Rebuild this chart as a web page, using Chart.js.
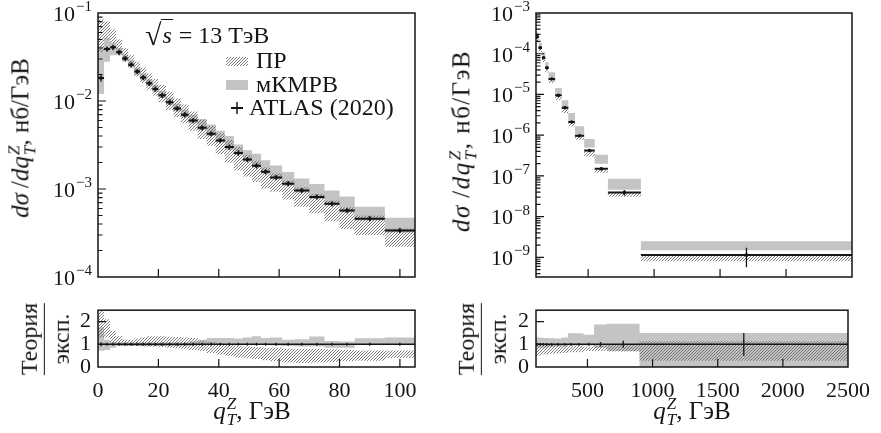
<!DOCTYPE html>
<html>
<head>
<meta charset="utf-8">
<script src="https://cdn.jsdelivr.net/npm/chart.js@4.4.1/dist/chart.umd.min.js"></script>
<style>
  body { margin: 0; background: #fff; width: 881px; height: 433px; overflow: hidden; position: relative;
         font-family: "Liberation Serif", serif; color: #151515; }
  canvas { position: absolute; }
  .lbl { position: absolute; white-space: nowrap; font-size: 25px; line-height: 1; }
  .rot { transform: translate(-50%, -50%) rotate(-90deg); }
  .mid { transform: translate(-50%, -50%); }
  .ss { display: inline-block; vertical-align: -0.38em; font-size: 0.68em; line-height: 0.92; text-align: left; margin-left: 1px; }
  .ss i { display: block; }
  .frac { display: flex; flex-direction: column; align-items: center; font-size: 24px; }
  .frac .bar { width: 100%; height: 1.3px; background: #151515; margin: 3px 0 4px; }
  .sq { font-size: 1.25em; vertical-align: -0.08em; }
  .rad { border-top: 1.4px solid #151515; padding: 2px 1px 0 1px; }
</style>
</head>
<body>
<canvas id="tl" width="440" height="290" style="left:0;top:0"></canvas>
<canvas id="tr" width="441" height="290" style="left:440px;top:0"></canvas>
<canvas id="bl" width="440" height="143" style="left:0;top:290px"></canvas>
<canvas id="br" width="441" height="143" style="left:440px;top:290px"></canvas>

<div class="lbl rot" style="left:22px;top:138px"><i>dσ</i>&thinsp;/<i>dq</i><span class="ss"><i>Z</i><i>T</i></span>, нб/ГэВ</div>
<div class="lbl rot" style="left:463px;top:141px;letter-spacing:1.5px"><i>dσ</i>&thinsp;/<i>dq</i><span class="ss"><i>Z</i><i>T</i></span>, нб/ГэВ</div>
<div class="lbl rot frac" style="left:45px;top:339px"><span>Теория</span><span class="bar"></span><span>эксп.</span></div>
<div class="lbl rot frac" style="left:482px;top:339px"><span>Теория</span><span class="bar"></span><span>эксп.</span></div>
<div class="lbl mid" style="left:252px;top:412px"><i>q</i><span class="ss"><i>Z</i><i>T</i></span>, ГэВ</div>
<div class="lbl mid" style="left:692px;top:412px"><i>q</i><span class="ss"><i>Z</i><i>T</i></span>, ГэВ</div>
<div class="lbl" style="left:145px;top:20px;font-size:24px"><span class="sq">√</span><span class="rad"><i>s</i></span> = 13 ТэВ</div>

<script>
// bin edges, GeV
const edgesLow = [0, 2, 4, 6, 8, 10, 12, 14, 16, 18, 20, 22.5, 25, 27.5, 30, 33, 36, 39, 42, 45, 48, 51, 54, 57, 61, 65, 70, 75, 80, 85, 95, 105];
const edgesHigh = [105, 125, 150, 175, 200, 250, 300, 350, 400, 470, 550, 650, 900, 2500];

// ATLAS (2020), dσ/dqT in nb/GeV, with relative errors
const atlasLow = [0.0182, 0.039, 0.0407, 0.0357, 0.0304, 0.0258, 0.0216, 0.0185, 0.0159, 0.0137, 0.0116, 0.0097, 0.0082, 0.0070, 0.0060, 0.00495,
  0.00424, 0.00355, 0.0030, 0.00257, 0.00216, 0.00184, 0.00157, 0.00135, 0.00115, 0.00096, 0.00081, 0.00068, 0.00057, 0.00046, 0.000338];
const atlasLowErr = [0.09, 0.07, 0.07, 0.07, 0.07, 0.07, 0.07, 0.07, 0.07, 0.07, 0.07, 0.07, 0.07, 0.07, 0.07, 0.07,
  0.07, 0.07, 0.07, 0.07, 0.07, 0.07, 0.07, 0.07, 0.07, 0.07, 0.07, 0.07, 0.07, 0.07, 0.07];
const atlasHigh = [2.6e-4, 1.4e-4, 8.0e-5, 4.5e-5, 2.4e-5, 9.5e-6, 4.7e-6, 2.1e-6, 9.7e-7, 4.2e-7, 1.5e-7, 3.9e-8, 1.15e-9];
const atlasHighErrDn = [0.06, 0.06, 0.06, 0.06, 0.06, 0.06, 0.06, 0.06, 0.06, 0.07, 0.1, 0.15, 0.5];
const atlasHighErrUp = [0.06, 0.06, 0.06, 0.06, 0.06, 0.06, 0.06, 0.06, 0.06, 0.07, 0.1, 0.15, 0.5];

// ПР (hatched) and мКМРВ (grey) bands, nb/GeV
const prLowLo = [0.036, 0.050, 0.045, 0.036, 0.029, 0.024, 0.019, 0.016, 0.0135, 0.0115, 0.0096, 0.0079, 0.0066, 0.0056, 0.0046, 0.0037,
  0.0031, 0.0025, 0.0020, 0.00162, 0.00139, 0.00120, 0.00102, 0.00093, 0.00076, 0.00063, 0.00053, 0.00043, 0.00035, 0.00030, 0.00022];
const prLowHi = [0.085, 0.080, 0.065, 0.050, 0.040, 0.033, 0.028, 0.024, 0.0205, 0.0178, 0.0152, 0.0127, 0.0107, 0.0091, 0.0076, 0.0062,
  0.0052, 0.0043, 0.0036, 0.0030, 0.00245, 0.0021, 0.00175, 0.0015, 0.00125, 0.00105, 0.00088, 0.00074, 0.00062, 0.00050, 0.000355];
const kmrvLowLo = [0.0120, 0.028, 0.033, 0.033, 0.028, 0.024, 0.020, 0.0172, 0.0148, 0.0127, 0.0108, 0.0090, 0.0076, 0.0065, 0.0056, 0.0047,
  0.0040, 0.0034, 0.0028, 0.00245, 0.00205, 0.00175, 0.00149, 0.00128, 0.00109, 0.00091, 0.00077, 0.00065, 0.00054, 0.00044, 0.00032];
const kmrvLowHi = [0.042, 0.052, 0.046, 0.040, 0.034, 0.029, 0.024, 0.0205, 0.0177, 0.0152, 0.0130, 0.0109, 0.0093, 0.0080, 0.0070, 0.0062,
  0.0054, 0.0046, 0.0040, 0.0032, 0.00275, 0.00252, 0.00212, 0.00185, 0.00156, 0.00132, 0.00114, 0.00096, 0.00082, 0.00063, 0.00047];
const prHighLo = [2.0e-4, 1.1e-4, 6.3e-5, 3.5e-5, 1.9e-5, 7.4e-6, 3.5e-6, 1.65e-6, 7.7e-7, 3.0e-7, 1.2e-7, 3.1e-8, 8.0e-10];
const prHighHi = [2.65e-4, 1.42e-4, 8.1e-5, 4.55e-5, 2.3e-5, 9.3e-6, 4.65e-6, 2.2e-6, 9.7e-7, 4.2e-7, 1.45e-7, 3.9e-8, 1.1e-9];
const kmrvHighLo = [2.6e-4, 1.42e-4, 8.2e-5, 4.6e-5, 2.3e-5, 9.0e-6, 4.65e-6, 2.2e-6, 1.03e-6, 5.0e-7, 2.0e-7, 4.6e-8, 1.5e-9];
const kmrvHighHi = [3.3e-4, 1.85e-4, 1.08e-4, 6.2e-5, 3.5e-5, 1.45e-5, 7.2e-6, 3.5e-6, 1.65e-6, 8.1e-7, 3.3e-7, 8.5e-8, 2.5e-9];

// theory / data
const prRatioLowLo = [1.3, 1.3, 1.05, 0.95, 0.92, 0.92, 0.92, 0.9, 0.9, 0.9, 0.88, 0.85, 0.82, 0.8, 0.75, 0.7,
  0.62, 0.55, 0.5, 0.42, 0.38, 0.35, 0.3, 0.25, 0.2, 0.18, 0.2, 0.22, 0.25, 0.28, 0.4];
const prRatioLowHi = [2.6, 2.1, 1.6, 1.35, 1.2, 1.2, 1.25, 1.3, 1.35, 1.35, 1.35, 1.33, 1.32, 1.3, 1.28, 1.15,
  1.1, 1.05, 1.0, 0.95, 0.9, 0.88, 0.85, 0.85, 0.8, 0.8, 0.8, 0.78, 0.75, 0.73, 0.73];
const kmrvRatioLowLo = [0.72, 0.75, 0.85, 0.92, 0.92, 0.92, 0.92, 0.92, 0.92, 0.92, 0.92, 0.92, 0.92, 0.92, 0.93, 0.95,
  0.97, 0.97, 0.97, 0.97, 0.97, 0.97, 0.97, 0.95, 0.92, 0.9, 0.9, 0.85, 0.85, 0.98, 0.97];
const kmrvRatioLowHi = [1.75, 1.2, 1.1, 1.08, 1.08, 1.08, 1.08, 1.08, 1.08, 1.08, 1.08, 1.08, 1.08, 1.08, 1.12, 1.2,
  1.28, 1.28, 1.28, 1.25, 1.3, 1.35, 1.28, 1.3, 1.2, 1.22, 1.34, 1.14, 1.12, 1.26, 1.3];
const prRatioHighLo = [0.5, 0.5, 0.55, 0.55, 0.58, 0.6, 0.62, 0.65, 0.65, 0.7, 0.7, 0.68, 0.28];
const prRatioHighHi = [1.05, 1.0, 1.0, 1.0, 0.98, 0.97, 0.95, 0.95, 0.95, 0.9, 0.95, 0.98, 1.13];
const kmrvRatioHighLo = [0.85, 0.85, 0.85, 0.85, 0.88, 0.9, 0.9, 0.95, 0.95, 0.95, 0.85, 0.7, 0.0];
const kmrvRatioHighHi = [1.3, 1.3, 1.28, 1.28, 1.27, 1.25, 1.3, 1.48, 1.48, 1.42, 1.87, 1.9, 1.5];

// axis ticks
const xTicksLow = [0, 20, 40, 60, 80, 100];
const xTicksHigh = [500, 1000, 1500, 2000, 2500];
const ratioTicks = [0, 1, 2];
const legendNames = ['ПР', 'мКМРВ', 'ATLAS (2020)'];

const ink = '#151515';
const grayFill = '#c4c4c4';
const tickFont = { family: 'Liberation Serif', size: 22 };

// diagonal hatching for the ПР band
function makeHatch() {
  const c = document.createElement('canvas');
  c.width = 3; c.height = 3;
  const g = c.getContext('2d');
  g.strokeStyle = '#6c6c6c';
  g.lineWidth = 0.9;
  g.beginPath();
  g.moveTo(0, 3); g.lineTo(3, 0);
  g.moveTo(-1, 1); g.lineTo(1, -1);
  g.moveTo(2, 4); g.lineTo(4, 2);
  g.stroke();
  return g.createPattern(c, 'repeat');
}
const hatchFill = makeHatch();

const isPow10 = v => Math.abs(Math.log10(v) - Math.round(Math.log10(v))) < 1e-6;

function logTicks(min, max) {
  const out = [];
  for (let e = Math.floor(Math.log10(min)); e <= Math.ceil(Math.log10(max)); e++) {
    for (let m = 1; m <= 9; m++) {
      const v = m * Math.pow(10, e);
      if (v >= min * 0.999 && v <= max * 1.001) out.push({ value: v });
    }
  }
  return out;
}

// histogram helpers
const stepPts = (edges, vals) => edges.map((e, i) => ({ x: e, y: vals[Math.min(i, vals.length - 1)] }));
function binBars(edges, vals) {
  const pts = [];
  vals.forEach((v, i) => pts.push({ x: edges[i], y: v }, { x: edges[i + 1], y: v }, { x: edges[i + 1], y: null }));
  return pts;
}
function errBars(edges, vals, dn, up) {
  const pts = [];
  vals.forEach((v, i) => {
    const c = (edges[i] + edges[i + 1]) / 2;
    pts.push({ x: c, y: v * (1 - dn[i]) }, { x: c, y: v * (1 + up[i]) }, { x: c, y: null });
  });
  return pts;
}
const centers = (edges, vals) => vals.map((v, i) => ({ x: (edges[i] + edges[i + 1]) / 2, y: v }));

function band(edges, lo, hi, fill) {
  const base = { stepped: true, borderWidth: 0, borderColor: 'rgba(0,0,0,0)', pointRadius: 0 };
  return [
    Object.assign({ data: stepPts(edges, hi), fill: '+1', backgroundColor: fill }, base),
    Object.assign({ data: stepPts(edges, lo), fill: false }, base)
  ];
}
function dataSets(bars, errs, pts, dot) {
  return [
    { data: errs, borderColor: ink, borderWidth: 1.3, pointRadius: 0, fill: false },
    { data: bars, borderColor: ink, borderWidth: 2, pointRadius: 0, fill: false },
    { data: pts, showLine: false, pointRadius: dot, pointBackgroundColor: ink, pointBorderWidth: 0 }
  ];
}

// frame, inward tick marks and 10^n labels on log axes
const frameTicks = {
  id: 'frameTicks',
  afterDatasetsDraw(chart) {
    const { ctx, chartArea: a, scales } = chart;
    ctx.save();
    ctx.strokeStyle = ink;
    ctx.lineWidth = 1.2;
    ctx.beginPath();
    scales.x.ticks.forEach(t => {
      const px = scales.x.getPixelForValue(t.value);
      if (px <= a.left + 1 || px >= a.right - 1) return;
      ctx.moveTo(px, a.bottom); ctx.lineTo(px, a.bottom - 8);
    });
    const logY = scales.y.type === 'logarithmic';
    scales.y.ticks.forEach(t => {
      const py = scales.y.getPixelForValue(t.value);
      if (py <= a.top + 0.5 || py >= a.bottom - 0.5) return;
      const len = !logY || isPow10(t.value) ? 8 : 4.5;
      ctx.moveTo(a.left, py); ctx.lineTo(a.left + len, py);
    });
    ctx.stroke();
    ctx.lineWidth = 1.5;
    ctx.strokeRect(a.left, a.top, a.right - a.left, a.bottom - a.top);

    if (logY) {
      ctx.fillStyle = ink;
      ctx.textAlign = 'right';
      ctx.textBaseline = 'middle';
      scales.y.ticks.filter(t => isPow10(t.value)).forEach(t => {
        const py = scales.y.getPixelForValue(t.value);
        const ex = '−' + Math.abs(Math.round(Math.log10(t.value)));
        const xr = a.left - 6;
        ctx.font = '15px "Liberation Serif"';
        const w = ctx.measureText(ex).width;
        ctx.fillText(ex, xr, py - 6);
        ctx.font = '22px "Liberation Serif"';
        ctx.fillText('10', xr - w - 1, py + 2);
      });
    }
    ctx.restore();
  }
};

const legendTL = {
  id: 'legendTL',
  afterDraw(chart) {
    const ctx = chart.ctx;
    ctx.save();
    ctx.fillStyle = grayFill; ctx.fillRect(226, 80, 22, 10);
    ctx.fillStyle = hatchFill; ctx.fillRect(226, 57, 22, 9);
    ctx.strokeStyle = ink;
    ctx.lineWidth = 2;
    ctx.beginPath(); ctx.moveTo(231, 108); ctx.lineTo(243, 108); ctx.stroke();
    ctx.lineWidth = 1.5;
    ctx.beginPath(); ctx.moveTo(237, 102); ctx.lineTo(237, 114); ctx.stroke();
    ctx.fillStyle = ink;
    ctx.font = '24px "Liberation Serif"';
    ctx.textBaseline = 'middle';
    ctx.fillText(legendNames[0], 256, 62);
    ctx.fillText(legendNames[1], 256, 86);
    ctx.fillText(legendNames[2], 249, 109);
    ctx.restore();
  }
};

function xScale(min, max, ticks, labels, h) {
  return {
    type: 'linear', min, max, offset: false,
    grid: { display: false, drawTicks: false }, border: { display: false },
    ticks: { display: labels, autoSkip: false, maxRotation: 0, padding: 11, font: tickFont, color: ink, callback: v => String(v) },
    afterBuildTicks: s => { s.ticks = ticks.map(v => ({ value: v })); },
    afterFit: s => { s.height = h; }
  };
}
function logYScale(min, max, w) {
  return {
    type: 'logarithmic', min, max,
    grid: { display: false, drawTicks: false }, border: { display: false },
    ticks: { display: false },
    afterBuildTicks: s => { s.ticks = logTicks(min, max); },
    afterFit: s => { s.width = w; }
  };
}
function ratioYScale(w) {
  return {
    type: 'linear', min: 0, max: 2.5,
    grid: { display: false, drawTicks: false }, border: { display: false },
    ticks: { autoSkip: false, padding: 7, font: tickFont, color: ink },
    afterBuildTicks: s => { s.ticks = ratioTicks.map(v => ({ value: v })); },
    afterFit: s => { s.width = w; }
  };
}

function panel(id, datasets, x, y, pad, extra) {
  return new Chart(document.getElementById(id), {
    type: 'line',
    data: { datasets },
    options: {
      responsive: false, animation: false, events: [],
      layout: { padding: pad },
      plugins: { legend: { display: false }, tooltip: { enabled: false } },
      scales: { x, y }
    },
    plugins: [frameTicks].concat(extra || [])
  });
}

const ones = v => v.map(() => 1);
const unitLine = (a, b) => ({ data: [{ x: a, y: 1 }, { x: b, y: 1 }], borderColor: ink, borderWidth: 1.5, pointRadius: 0, fill: false });

panel('tl',
  dataSets(binBars(edgesLow, atlasLow), errBars(edgesLow, atlasLow, atlasLowErr, atlasLowErr), centers(edgesLow, atlasLow), 1.8)
    .concat(band(edgesLow, prLowLo, prLowHi, hatchFill), band(edgesLow, kmrvLowLo, kmrvLowHi, grayFill)),
  xScale(0, 105, xTicksLow, false, 13), logYScale(1e-4, 1e-1, 98),
  { left: 0, right: 25, top: 13, bottom: 0 }, [legendTL]);

panel('tr',
  dataSets(binBars(edgesHigh, atlasHigh), errBars(edgesHigh, atlasHigh, atlasHighErrDn, atlasHighErrUp), centers(edgesHigh, atlasHigh), 1.8)
    .concat(band(edgesHigh, prHighLo, prHighHi, hatchFill), band(edgesHigh, kmrvHighLo, kmrvHighHi, grayFill)),
  xScale(105, 2500, xTicksHigh, false, 13), logYScale(3.3e-10, 1e-3, 96),
  { left: 0, right: 29, top: 13, bottom: 0 });

panel('bl',
  [unitLine(0, 105)]
    .concat(dataSets([], errBars(edgesLow, ones(atlasLow), atlasLowErr, atlasLowErr), [], 0))
    .concat(band(edgesLow, prRatioLowLo, prRatioLowHi, hatchFill), band(edgesLow, kmrvRatioLowLo, kmrvRatioLowHi, grayFill)),
  xScale(0, 105, xTicksLow, true, 66), ratioYScale(98),
  { left: 0, right: 25, top: 12, bottom: 0 });

panel('br',
  [unitLine(105, 2500)]
    .concat(dataSets([], errBars(edgesHigh, ones(atlasHigh), atlasHighErrDn, atlasHighErrUp), [], 0))
    .concat(band(edgesHigh, prRatioHighLo, prRatioHighHi, hatchFill), band(edgesHigh, kmrvRatioHighLo, kmrvRatioHighHi, grayFill)),
  xScale(105, 2500, xTicksHigh, true, 66), ratioYScale(96),
  { left: 0, right: 29, top: 12, bottom: 0 });
</script>
</body>
</html>
